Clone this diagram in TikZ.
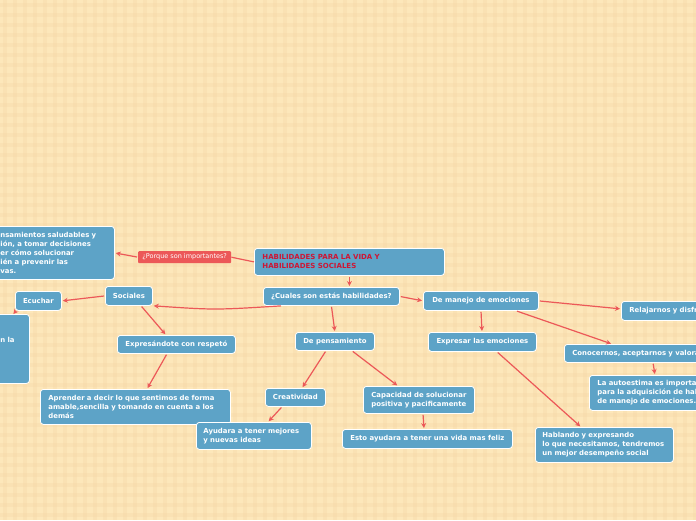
\documentclass[tikz,border=0pt]{standalone}
\usepackage{fontspec}
\newfontfamily\mapfont{DejaVu Sans}
\usetikzlibrary{arrows.meta}
\definecolor{cbg}{RGB}{253,231,186}
\definecolor{cgrid}{RGB}{245,216,166}
\definecolor{cbox}{RGB}{93,163,199}
\definecolor{cline}{RGB}{236,88,88}
\definecolor{ctitle}{RGB}{205,22,52}
\newcommand\boxfont{\mapfont\bfseries\fontsize{6.9}{9}\selectfont}

\begin{document}
\begin{tikzpicture}[x=1pt,y=-1pt,
  box/.style={draw=white,line width=0.8pt,fill=cbox,rounded corners=3pt,text=white,
    font=\boxfont,anchor=north west,inner xsep=7pt,inner ysep=1pt},
  leftbox/.style={box,align=left,text width=#1},
  link/.style={draw=cline,line width=1.2pt,-{Stealth[length=5pt,width=5pt]},shorten <=1pt,shorten >=1pt},
  plain/.style={draw=cline,line width=1.2pt}]

\useasboundingbox (0,0) rectangle (696,520);
\clip (0,0) rectangle (696,520);

% ===== background =====
\fill[cbg] (0,0) rectangle (696,520);
\foreach \k in {0,10,...,690}{\draw[cgrid,line width=3.5pt,opacity=0.35] (\k+5,0) -- (\k+5,520);}
\foreach \k in {0,10,...,510}{\draw[cgrid,line width=3.5pt,opacity=0.35] (0,\k+5) -- (696,\k+5);}

% ===== centre =====
\node[leftbox=174pt,inner xsep=8pt,minimum height=27pt,text=ctitle,font=\mapfont\bfseries\fontsize{7}{9}\selectfont] (main) at (254,248)
  {HABILIDADES PARA LA VIDA Y\\ HABILIDADES SOCIALES};
\node[anchor=north west,fill=cline,rounded corners=1pt,text=white,minimum width=93pt,minimum height=12pt,inner sep=1pt,
  font=\mapfont\fontsize{6.5}{8}\selectfont] (why) at (138,251) {¿Porque son importantes?};
\node[leftbox=108pt,inner xsep=6pt,minimum height=53pt] (left) at (-6,226)
  {nsamientos saludables y\\ ión, a tomar decisiones\\ er cómo solucionar\\ ién a prevenir las\\ vas.};
\node[box,minimum width=136pt,minimum height=18pt] (cuales) at (263,287) {¿Cuales son estás habilidades?};

% ===== sociales =====
\node[box,minimum width=47pt,minimum height=19pt] (sociales) at (105,286) {Sociales};
\node[box,minimum width=46pt,minimum height=19pt] (ecuchar) at (15,291) {Ecuchar};
\node[leftbox=23pt,inner xsep=6pt,minimum height=69pt] (tall) at (-6,314) {n la\\ \mbox{}\\ \mbox{}};
\node[box,minimum width=118pt,minimum height=18pt] (expres) at (117,335) {Expresándote con respetó};
\node[leftbox=174pt,inner xsep=8pt,minimum height=35pt] (aprender) at (40,389)
  {Aprender a decir lo que sentimos de forma\\ amable,sencilla y tomando en cuenta a los\\ demás};

% ===== de pensamiento =====
\node[box,minimum width=79pt,minimum height=18pt] (pensam) at (295,332) {De pensamiento};
\node[box,minimum width=60pt,minimum height=18pt] (creat) at (265,388) {Creatividad};
\node[leftbox=101pt,minimum height=27pt] (ayudara) at (196,422) {Ayudara a tener mejores\\ y nuevas ideas};
\node[box,align=center,minimum width=111pt,minimum height=27pt] (capac) at (363,386) {Capacidad de solucionar\\ positiva y pacificamente};
\node[box,minimum width=170pt,minimum height=19pt] (esto) at (342,429) {Esto ayudara a tener una vida mas feliz};

% ===== de manejo de emociones =====
\node[box,minimum width=115pt,minimum height=19pt] (manejo) at (423,291) {De manejo de emociones};
\node[box,minimum width=108pt,minimum height=19pt] (expresar) at (428,332) {Expresar las emociones};
\node[leftbox=104pt,inner xsep=8pt,minimum height=19pt] (relaj) at (621,301) {Relajarnos y disfrutar};
\node[leftbox=164pt,inner xsep=8pt,minimum height=18pt] (conoc) at (564,344) {Conocernos, aceptarnos y valorarnos};
\node[leftbox=164pt,inner xsep=8pt,minimum height=35pt] (autoest) at (589,375)
  {La autoestima es importante\\ para la adquisición de habilidades\\ de manejo de emociones.};
\node[leftbox=124pt,minimum height=35pt] (hablando) at (535,427)
  {Hablando y expresando\\ lo que necesitamos, tendremos\\ un mejor desempeño social};

% ===== connectors =====
\draw[plain] (main.west) -- (why.east);
\draw[link] (why.west) -- (left.east);
\draw[link] (main.south) -- (main.south |- cuales.north);
\draw[link] ([xshift=19pt]cuales.south west) .. controls (215,310) .. (sociales.south east);
\draw[link] (cuales.south) -- (pensam.north);
\draw[link] (cuales.east) -- (manejo.west);
\draw[link] (sociales.west) -- (ecuchar.east);
\draw[link,shorten <=0pt,shorten >=0pt] ([xshift=1pt]ecuchar.south west) -- ([xshift=1.5pt]tall.north);
\draw[link] ([xshift=36pt]sociales.south west) -- ([xshift=49pt]expres.north west);
\draw[link] ([xshift=50pt]expres.south west) -- ([xshift=107pt]aprender.north west);
\draw[link] ([xshift=31pt]pensam.south west) -- ([xshift=37pt]creat.north west);
\draw[link] ([xshift=57pt]pensam.south west) -- ([xshift=35pt]capac.north west);
\draw[link] ([xshift=17pt]creat.south west) -- ([xshift=72pt]ayudara.north west);
\draw[link] ([xshift=60pt]capac.south west) -- ([xshift=82pt]esto.north west);
\draw[link] ([xshift=58pt]manejo.south west) -- ([xshift=54pt]expresar.north west);
\draw[link] (manejo.east) -- ([yshift=2pt]relaj.west);
\draw[link] ([xshift=93pt]manejo.south west) -- ([xshift=48pt]conoc.north west);
\draw[link] ([xshift=89pt]conoc.south west) -- ([xshift=66pt]autoest.north west);
\draw[link] ([xshift=69pt]expresar.south west) -- ([xshift=46pt]hablando.north west);
\end{tikzpicture}
\end{document}
